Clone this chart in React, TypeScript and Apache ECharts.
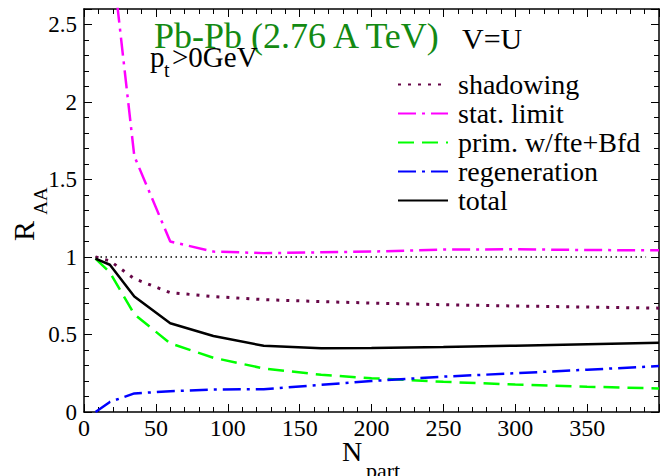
import React, { useEffect, useRef } from "react";
import * as echarts from "echarts";

// N_part values at which curves are evaluated
const npart = [8, 18, 35, 60, 90, 125, 165, 200, 250, 300, 350, 400];
const shadowing = [1.0, 0.975, 0.86, 0.77, 0.745, 0.725, 0.712, 0.703, 0.692, 0.684, 0.677, 0.67];
const statNpart = [18, 35, 60, 90, 125, 165, 200, 250, 300, 350, 400];
const statLimit = [3.05, 1.65, 1.1, 1.035, 1.025, 1.03, 1.035, 1.048, 1.05, 1.045, 1.043];
const primary = [0.99, 0.9, 0.63, 0.443, 0.35, 0.281, 0.24, 0.218, 0.195, 0.177, 0.163, 0.152];
const regeneration = [0.0, 0.065, 0.12, 0.134, 0.145, 0.147, 0.175, 0.2, 0.228, 0.25, 0.273, 0.296];
const total = [0.99, 0.95, 0.745, 0.573, 0.49, 0.427, 0.412, 0.413, 0.42, 0.428, 0.437, 0.446];
const refNpart = [8, 391];
const refValue = [1, 1];

const xTickLabels = [0, 50, 100, 150, 200, 250, 300, 350];
const yTickLabels = [0, 0.5, 1, 1.5, 2, 2.5];

const seriesNames = ["shadowing", "stat. limit", "prim. w/fte+Bfd", "regeneration", "total"];

const zip = (xs: number[], ys: number[]) => xs.map((x, i) => [x, ys[i]]);

const SERIF = "Liberation Serif, serif";

export default function App() {
  const ref = useRef<HTMLDivElement>(null);
  useEffect(() => {
    if (!ref.current) return;
    const chart = echarts.init(ref.current, undefined, { renderer: "svg" });

    const axisCommon = {
      axisLine: { show: true, onZero: false, lineStyle: { color: "#000", width: 1.5 } },
      axisTick: { show: true, inside: true, length: 8, lineStyle: { color: "#000", width: 1 } },
      minorTick: { show: true, splitNumber: 5, length: 5, lineStyle: { color: "#000", width: 1 } },
      splitLine: { show: false },
    };

    const xBase = { type: "value", min: 0, max: 400, interval: 50, ...axisCommon };
    const yBase = { type: "value", min: 0, max: 2.6, interval: 0.5, ...axisCommon };

    const txt = (text: string, x: number, y: number, size: number, fill = "#000", extra: any = {}) => ({
      type: "text",
      x,
      y,
      ...extra,
      style: {
        text,
        fill,
        fontSize: size,
        fontFamily: SERIF,
        align: extra.align || "left",
        verticalAlign: "middle",
      },
    });

    const option: any = {
      animation: false,
      textStyle: { fontFamily: SERIF },
      grid: { left: 84, right: 6, top: 9, bottom: 64, containLabel: false },
      xAxis: [
        {
          ...xBase,
          position: "bottom",
          axisLabel: {
            show: true,
            margin: 4,
            color: "#000",
            fontSize: 24,
            fontFamily: SERIF,
            formatter: (v: number) => (xTickLabels.includes(v) ? String(v) : ""),
          },
        },
        { ...xBase, position: "top", axisLabel: { show: false } },
      ],
      yAxis: [
        {
          ...yBase,
          position: "left",
          axisLabel: {
            show: true,
            margin: 7,
            color: "#000",
            fontSize: 23,
            fontFamily: SERIF,
            formatter: (v: number) => {
              const r = Math.round(v * 10) / 10;
              return yTickLabels.includes(r) ? String(r) : "";
            },
          },
        },
        { ...yBase, position: "right", axisLabel: { show: false } },
      ],
      legend: {
        data: seriesNames,
        orient: "vertical",
        left: 392,
        top: 65,
        itemWidth: 50,
        itemHeight: 14,
        itemGap: 0,
        itemStyle: { opacity: 0, color: "transparent", borderWidth: 0 },
        textStyle: { color: "#000", fontSize: 28, fontFamily: SERIF, lineHeight: 29, padding: [0, 0, 0, 5] },
      },
      series: [
        {
          name: "ref",
          type: "line",
          data: zip(refNpart, refValue),
          symbol: "none",
          lineStyle: { color: "#000", width: 1.5, type: [1.5, 3.5] },
          silent: true,
        },
        {
          name: "shadowing",
          type: "line",
          data: zip(npart, shadowing),
          symbol: "none",
          color: "#670748",
          lineStyle: { color: "#670748", width: 3, type: [3, 7] },
        },
        {
          name: "stat. limit",
          type: "line",
          data: zip(statNpart, statLimit),
          symbol: "none",
          clip: true,
          color: "#ff00ff",
          lineStyle: { color: "#ff00ff", width: 2.5, type: [18, 6, 3, 6] },
        },
        {
          name: "prim. w/fte+Bfd",
          type: "line",
          data: zip(npart, primary),
          symbol: "none",
          color: "#00ff00",
          lineStyle: { color: "#00ff00", width: 2.5, type: [16, 8] },
        },
        {
          name: "regeneration",
          type: "line",
          data: zip(npart, regeneration),
          symbol: "none",
          color: "#0000ff",
          lineStyle: { color: "#0000ff", width: 2.5, type: [18, 6, 3, 6] },
        },
        {
          name: "total",
          type: "line",
          data: zip(npart, total),
          symbol: "none",
          color: "#000",
          lineStyle: { color: "#000", width: 2.5, type: "solid" },
        },
      ],
      graphic: [
        txt("Pb-Pb (2.76 A TeV)", 154, 36, 36, "#138a13"),
        txt("V=U", 462, 38, 30),
        txt("p", 150, 57, 29),
        txt("t", 164, 70, 20),
        txt(">0GeV", 172, 57, 29),
        txt("R", 23, 231, 30, "#000", { rotation: Math.PI / 2, align: "center" }),
        txt("AA", 40, 201, 19, "#000", { rotation: Math.PI / 2, align: "center" }),
        txt("N", 342, 451, 28),
        txt("part", 366, 470, 22),
      ],
    };

    chart.setOption(option);
    return () => chart.dispose();
  }, []);

  return (
    <div
      ref={ref}
      style={{ position: "absolute", left: 0, top: 0, width: 665, height: 476, background: "#fff" }}
    />
  );
}
